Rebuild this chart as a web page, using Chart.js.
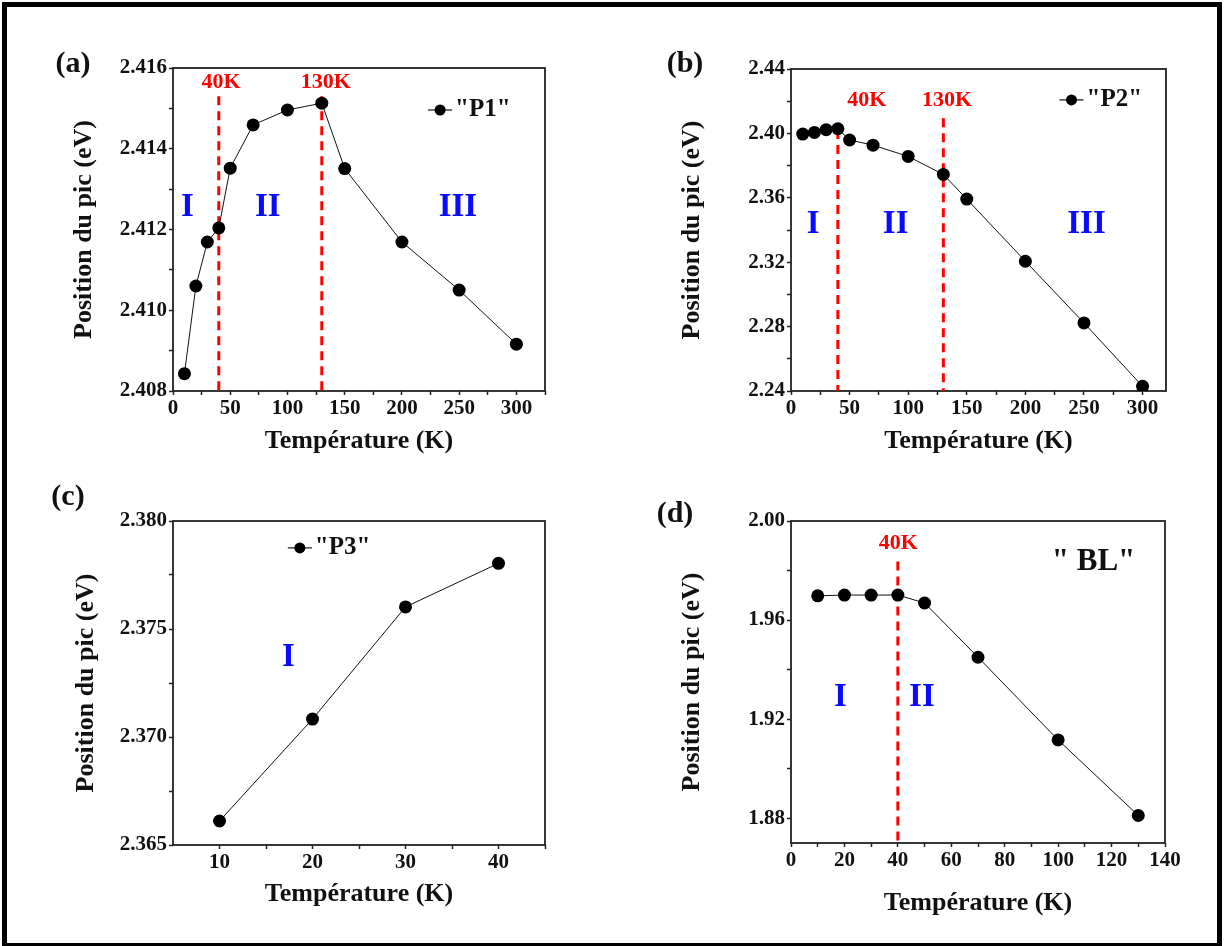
<!DOCTYPE html>
<html lang="fr">
<head>
<meta charset="UTF-8">
<title>Position du pic en fonction de la température</title>
<script src="https://cdn.jsdelivr.net/npm/chart.js@4.4.1/dist/chart.umd.min.js"></script>
<style>
    html, body {
        margin: 0;
        padding: 0;
        background: #fff;
    }
    body {
        width: 1225px;
        height: 946px;
        position: relative;
        overflow: hidden;
        font-family: 'Liberation Serif', 'Times New Roman', serif;
    }
    .frame {
        position: absolute;
        left: 2px;
        top: 2px;
        width: 1220px;
        height: 946px;
        border: 5px solid #000;
        box-sizing: border-box;
    }
    canvas {
        position: absolute;
    }
    .tag {
        position: absolute;
        font-weight: bold;
        font-size: 30px;
        line-height: 1;
        transform: translate(-50%, -50%);
        color: #111;
    }
</style>
</head>
<body>
<div class="frame"></div>
<canvas id="chartA"></canvas>
<canvas id="chartB"></canvas>
<canvas id="chartC"></canvas>
<canvas id="chartD"></canvas>
<div class="tag" style="left:73px; top:62px;">(a)</div>
<div class="tag" style="left:685px; top:62px;">(b)</div>
<div class="tag" style="left:68px; top:495px;">(c)</div>
<div class="tag" style="left:675px; top:512px;">(d)</div>

<script>
    // Data
    const tempsAB = [10, 20, 30, 40, 50, 70, 100, 130, 150, 200, 250, 300];
    const posP1 = [2.40843, 2.4106, 2.41169, 2.41204, 2.41352, 2.41459, 2.41496, 2.41513, 2.41351, 2.41169, 2.4105, 2.40916];
    const posP2 = [2.3996, 2.4006, 2.4023, 2.4029, 2.3959, 2.3927, 2.3857, 2.3745, 2.3592, 2.3206, 2.2823, 2.2429];
    const tempsC = [10, 20, 30, 40];
    const posP3 = [2.36611, 2.37083, 2.37602, 2.37804];
    const tempsD = [10, 20, 30, 40, 50, 70, 100, 130];
    const posBL = [1.9698, 1.9701, 1.9701, 1.9701, 1.9669, 1.9450, 1.9116, 1.8811];

    // transition temperatures (red dashed lines) and where each dash line starts
    const transAB = [40, 130];
    const dashTopA = [2.4153, 2.4153];
    const dashTopB = [2.4021, 2.4094];
    const transD = [40];
    const dashTopD = [1.9836];

    // tick labels (major); a minor tick sits halfway between them
    const xMajorAB = [0, 50, 100, 150, 200, 250, 300];
    const xMajorC = [10, 20, 30, 40];
    const xMajorD = [0, 20, 40, 60, 80, 100, 120, 140];
    const yMajorA = [2.408, 2.410, 2.412, 2.414, 2.416];
    const yMajorB = [2.24, 2.28, 2.32, 2.36, 2.40, 2.44];
    const yMajorC = [2.365, 2.370, 2.375, 2.380];
    const yMajorD = [1.88, 1.92, 1.96, 2.00];

    const SERIF = "'Liberation Serif', 'Times New Roman', serif";
    const INK = '#111';

    // major ticks plus one minor tick halfway between each pair
    function withMinor(major, lo, hi) {
        const step = major[1] - major[0];
        const out = [];
        for (let v = major[0] - step / 2; v >= lo - 1e-9; v -= step / 2) out.unshift(v);
        major.forEach((v, i) => {
            out.push(v);
            if (i < major.length - 1) out.push(v + step / 2);
        });
        const last = major[major.length - 1];
        for (let v = last + step / 2; v <= hi + 1e-9; v += step / 2) out.push(v);
        return out.filter(v => v > lo + 1e-9 || Math.abs(v - lo) < 1e-9 && major.some(m => Math.abs(m - v) < 1e-9));
    }

    function isMajor(v, major) {
        return major.some(m => Math.abs(m - v) < 1e-9);
    }

    function toPoints(xs, ys) {
        return xs.map((x, i) => ({x: x, y: ys[i]}));
    }

    const boxPlugin = {
        id: 'box',
        beforeDatasetsDraw(chart) {
            const a = chart.chartArea;
            const ctx = chart.ctx;
            ctx.save();
            ctx.strokeStyle = '#222';
            ctx.lineWidth = 1.8;
            ctx.strokeRect(a.left, a.top, a.right - a.left, a.bottom - a.top);
            ctx.restore();
        }
    };

    function makeNotes(notes) {
        return {
            id: 'notes',
            afterDraw(chart) {
                const a = chart.chartArea;
                const w = a.right - a.left;
                const h = a.bottom - a.top;
                const ctx = chart.ctx;
                ctx.save();
                ctx.textBaseline = 'middle';
                notes.forEach(n => {
                    const px = a.left + n.fx * w;
                    const py = a.top + n.fy * h;
                    ctx.font = 'bold ' + n.size + 'px ' + SERIF;
                    ctx.fillStyle = n.color || INK;
                    if (n.legend) {
                        ctx.strokeStyle = INK;
                        ctx.lineWidth = 1.2;
                        ctx.beginPath();
                        ctx.moveTo(px - 12, py);
                        ctx.lineTo(px + 12, py);
                        ctx.stroke();
                        ctx.beginPath();
                        ctx.arc(px, py, 5.5, 0, Math.PI * 2);
                        ctx.fillStyle = '#000';
                        ctx.fill();
                        ctx.fillStyle = INK;
                        ctx.textAlign = 'left';
                        ctx.fillText(n.text, px + 15, py);
                    } else {
                        ctx.textAlign = 'center';
                        ctx.fillText(n.text, px, py);
                    }
                });
                ctx.restore();
            }
        };
    }

    function makePanel(p) {
        const cv = document.getElementById(p.id);
        const cw = p.canvas.right - p.canvas.left;
        const ch = p.canvas.bottom - p.canvas.top;
        cv.width = cw;
        cv.height = ch;
        cv.style.left = p.canvas.left + 'px';
        cv.style.top = p.canvas.top + 'px';

        const titleSize = 26;
        const halfLine = titleSize * 1.2 / 2;

        const xTicks = withMinor(p.xMajor, p.xMin, p.xMax);
        const yTicks = withMinor(p.yMajor, p.yMin, p.yMax);

        const datasets = [{
            label: p.label,
            data: toPoints(p.temps, p.values),
            borderColor: INK,
            borderWidth: 1,
            backgroundColor: '#000',
            pointRadius: 6.5,
            pointBorderWidth: 0,
            pointBackgroundColor: '#000',
            tension: 0
        }];
        p.trans.forEach((t, i) => {
            datasets.push({
                label: t + 'K',
                data: [{x: t, y: p.dashTop[i]}, {x: t, y: p.yMin}],
                borderColor: '#ff0000',
                borderWidth: 3,
                borderDash: [9, 6],
                pointRadius: 0
            });
        });

        const tickFont = {family: SERIF, size: 21, weight: 'bold'};
        const titleFont = {family: SERIF, size: titleSize, weight: 'bold'};

        new Chart(cv, {
            type: 'line',
            data: {datasets: datasets},
            options: {
                responsive: false,
                animation: false,
                layout: {
                    padding: {
                        left: 0,
                        bottom: 0,
                        top: p.plot.top - p.canvas.top,
                        right: p.canvas.right - p.plot.right
                    }
                },
                plugins: {
                    legend: {display: false},
                    tooltip: {enabled: false}
                },
                scales: {
                    x: {
                        type: 'linear',
                        min: p.xMin,
                        max: p.xMax,
                        afterBuildTicks: s => { s.ticks = xTicks.map(v => ({value: v})); },
                        afterFit: s => { s.height = p.canvas.bottom - p.plot.bottom; },
                        border: {display: false},
                        grid: {drawOnChartArea: false, tickLength: 4, tickColor: '#222', tickWidth: 1.5},
                        ticks: {
                            autoSkip: false,
                            maxRotation: 0,
                            padding: 1,
                            color: INK,
                            font: tickFont,
                            callback: v => isMajor(v, p.xMajor) ? String(Math.round(v)) : ''
                        },
                        title: {
                            display: true,
                            text: 'Température (K)',
                            color: INK,
                            font: titleFont,
                            padding: {top: 0, bottom: p.canvas.bottom - p.xTitleY - halfLine}
                        }
                    },
                    y: {
                        type: 'linear',
                        min: p.yMin,
                        max: p.yMax,
                        afterBuildTicks: s => { s.ticks = yTicks.map(v => ({value: v})); },
                        afterFit: s => { s.width = p.plot.left - p.canvas.left; },
                        border: {display: false},
                        grid: {drawOnChartArea: false, tickLength: 4, tickColor: '#222', tickWidth: 1.5},
                        ticks: {
                            autoSkip: false,
                            padding: 2,
                            color: INK,
                            font: tickFont,
                            callback: v => isMajor(v, p.yMajor) ? v.toFixed(p.yDecimals) : ''
                        },
                        title: {
                            display: true,
                            text: 'Position du pic (eV)',
                            color: INK,
                            font: titleFont,
                            padding: {top: p.yTitleX - p.canvas.left - halfLine, bottom: 0}
                        }
                    }
                }
            },
            plugins: [boxPlugin, makeNotes(p.notes)]
        });
    }

    const BLUE = '#0a0aff';
    const RED = '#ff0000';

    makePanel({
        id: 'chartA', label: 'P1',
        canvas: {left: 8, top: 8, right: 600, bottom: 465},
        plot: {left: 173, top: 68, right: 545, bottom: 391},
        xTitleY: 441, yTitleX: 84,
        temps: tempsAB, values: posP1,
        xMin: 0, xMax: 325, xMajor: xMajorAB,
        yMin: 2.408, yMax: 2.416, yMajor: yMajorA, yDecimals: 3,
        trans: transAB, dashTop: dashTopA,
        notes: [
            {text: 'I', fx: 0.039, fy: 0.433, size: 33, color: BLUE},
            {text: 'II', fx: 0.255, fy: 0.433, size: 33, color: BLUE},
            {text: 'III', fx: 0.766, fy: 0.433, size: 33, color: BLUE},
            {text: '40K', fx: 0.129, fy: 0.045, size: 22, color: RED},
            {text: '130K', fx: 0.411, fy: 0.045, size: 22, color: RED},
            {text: '"P1"', fx: 0.718, fy: 0.130, size: 25, legend: true}
        ]
    });

    makePanel({
        id: 'chartB', label: 'P2',
        canvas: {left: 605, top: 8, right: 1215, bottom: 465},
        plot: {left: 791, top: 69, right: 1166, bottom: 391},
        xTitleY: 441, yTitleX: 692,
        temps: tempsAB, values: posP2,
        xMin: 0, xMax: 320, xMajor: xMajorAB,
        yMin: 2.24, yMax: 2.44, yMajor: yMajorB, yDecimals: 2,
        trans: transAB, dashTop: dashTopB,
        notes: [
            {text: 'I', fx: 0.059, fy: 0.484, size: 33, color: BLUE},
            {text: 'II', fx: 0.279, fy: 0.484, size: 33, color: BLUE},
            {text: 'III', fx: 0.788, fy: 0.484, size: 33, color: BLUE},
            {text: '40K', fx: 0.202, fy: 0.096, size: 22, color: RED},
            {text: '130K', fx: 0.416, fy: 0.096, size: 22, color: RED},
            {text: '"P2"', fx: 0.748, fy: 0.096, size: 25, legend: true}
        ]
    });

    makePanel({
        id: 'chartC', label: 'P3',
        canvas: {left: 8, top: 468, right: 600, bottom: 938},
        plot: {left: 173, top: 521, right: 545, bottom: 845},
        xTitleY: 894, yTitleX: 86,
        temps: tempsC, values: posP3,
        xMin: 5, xMax: 45, xMajor: xMajorC,
        yMin: 2.365, yMax: 2.380, yMajor: yMajorC, yDecimals: 3,
        trans: [], dashTop: [],
        notes: [
            {text: 'I', fx: 0.310, fy: 0.420, size: 33, color: BLUE},
            {text: '"P3"', fx: 0.341, fy: 0.083, size: 25, legend: true}
        ]
    });

    makePanel({
        id: 'chartD', label: 'BL',
        canvas: {left: 605, top: 468, right: 1215, bottom: 938},
        plot: {left: 791, top: 521, right: 1165, bottom: 843},
        xTitleY: 903, yTitleX: 692,
        temps: tempsD, values: posBL,
        xMin: 0, xMax: 140, xMajor: xMajorD,
        yMin: 1.87, yMax: 2.00, yMajor: yMajorD, yDecimals: 2,
        trans: transD, dashTop: dashTopD,
        notes: [
            {text: 'I', fx: 0.132, fy: 0.547, size: 33, color: BLUE},
            {text: 'II', fx: 0.350, fy: 0.547, size: 33, color: BLUE},
            {text: '40K', fx: 0.287, fy: 0.068, size: 22, color: RED},
            {text: '" BL"', fx: 0.809, fy: 0.127, size: 31}
        ]
    });
</script>
</body>
</html>
